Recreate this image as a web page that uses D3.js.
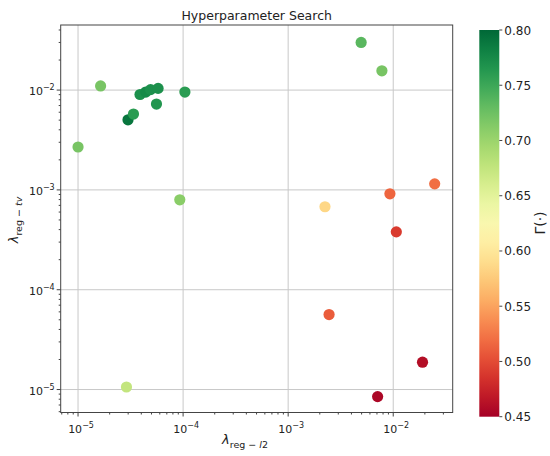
<!DOCTYPE html>
<html>
<head>
<meta charset="utf-8">
<script src="https://cdn.jsdelivr.net/npm/d3@7"></script>
<style>
  body { margin: 0; background: #fff; }
  text { font-family: "DejaVu Sans", sans-serif; fill: #222; }
</style>
</head>
<body>
<div id="chart"></div>
<script>
// valores
const lambdaL2 = [1.0e-5, 1.64e-5, 2.99e-5, 3.37e-5, 3.89e-5, 4.41e-5, 4.9e-5, 5.78e-5, 5.58e-5, 1.04e-4,
                  9.3e-5, 2.89e-5, 4.95e-3, 7.8e-3, 2.24e-3, 9.3e-3, 2.48e-2, 1.07e-2, 2.45e-3, 1.9e-2, 7.1e-3];
const lambdaTV = [2.69e-3, 1.10e-2, 5.04e-3, 5.75e-3, 9.03e-3, 9.55e-3, 1.01e-2, 1.04e-2, 7.24e-3, 9.55e-3,
                  7.96e-4, 1.06e-5, 3.0e-2, 1.56e-2, 6.78e-4, 9.14e-4, 1.15e-3, 3.8e-4, 5.64e-5, 1.88e-5, 8.5e-6];
const gammaVals = [0.72, 0.72, 0.79, 0.76, 0.77, 0.775, 0.77, 0.77, 0.765, 0.76,
                   0.71, 0.675, 0.735, 0.72, 0.585, 0.515, 0.52, 0.49, 0.51, 0.46, 0.455];
const xTicks = [1e-5, 1e-4, 1e-3, 1e-2];
const yTicks = [1e-5, 1e-4, 1e-3, 1e-2];
const cbTicks = [0.45, 0.50, 0.55, 0.60, 0.65, 0.70, 0.75, 0.80];

const width = 550, height = 456;
const plot = { left: 60.7, right: 452.7, top: 25, bottom: 412.5 };

const svg = d3.select('#chart').append('svg')
    .attr('width', width)
    .attr('height', height);

// Escalas (dominio con margenes como matplotlib)
const xScale = d3.scaleLog()
    .domain([Math.pow(10, -5.165), Math.pow(10, -1.434)])
    .range([plot.left, plot.right]);
const yScale = d3.scaleLog()
    .domain([Math.pow(10, -5.23), Math.pow(10, -1.348)])
    .range([plot.bottom, plot.top]);
const color = d3.scaleSequential(d3.interpolateRdYlGn).domain([0.45, 0.80]);

function sup(sel, d) {
    const e = Math.round(Math.log10(d));
    sel.text('10');
    sel.append('tspan').attr('dy', -5).attr('font-size', '8px').text('\u2212' + Math.abs(e));
}

function minors(scale) {
    const [a, b] = scale.domain();
    const out = [];
    for (let k = Math.floor(Math.log10(a)); k <= Math.ceil(Math.log10(b)); k++) {
        for (let m = 2; m <= 9; m++) {
            const v = m * Math.pow(10, k);
            if (v >= a && v <= b) out.push(v);
        }
    }
    return out;
}

// Rejilla
svg.append('g').selectAll('line').data(xTicks).enter().append('line')
    .attr('x1', d => xScale(d)).attr('x2', d => xScale(d))
    .attr('y1', plot.top).attr('y2', plot.bottom)
    .attr('stroke', '#c8c8c8').attr('stroke-width', 1);
svg.append('g').selectAll('line').data(yTicks).enter().append('line')
    .attr('y1', d => yScale(d)).attr('y2', d => yScale(d))
    .attr('x1', plot.left).attr('x2', plot.right)
    .attr('stroke', '#c8c8c8').attr('stroke-width', 1);

// Puntos
const points = lambdaL2.map((x, i) => ({ x: x, y: lambdaTV[i], g: gammaVals[i] }));
svg.append('g').selectAll('circle').data(points).enter().append('circle')
    .attr('cx', d => xScale(d.x))
    .attr('cy', d => yScale(d.y))
    .attr('r', 5.6)
    .attr('fill', d => color(d.g));

// Marco
svg.append('rect')
    .attr('x', plot.left).attr('y', plot.top)
    .attr('width', plot.right - plot.left).attr('height', plot.bottom - plot.top)
    .attr('fill', 'none').attr('stroke', '#444').attr('stroke-width', 1);

// Ejes
const xAxis = svg.append('g').attr('transform', `translate(0,${plot.bottom})`);
xAxis.selectAll('.minor').data(minors(xScale)).enter().append('line')
    .attr('x1', d => xScale(d)).attr('x2', d => xScale(d))
    .attr('y1', 0).attr('y2', 2).attr('stroke', '#444');
xAxis.selectAll('.major').data(xTicks).enter().append('line')
    .attr('x1', d => xScale(d)).attr('x2', d => xScale(d))
    .attr('y1', 0).attr('y2', 4).attr('stroke', '#444');
xAxis.selectAll('text').data(xTicks).enter().append('text')
    .attr('x', d => xScale(d) + 3)
    .attr('y', 20)
    .attr('text-anchor', 'middle')
    .attr('font-size', '11px')
    .each(function(d) { sup(d3.select(this), d); });

const yAxis = svg.append('g').attr('transform', `translate(${plot.left},0)`);
yAxis.selectAll('.minor').data(minors(yScale)).enter().append('line')
    .attr('y1', d => yScale(d)).attr('y2', d => yScale(d))
    .attr('x1', 0).attr('x2', -2).attr('stroke', '#444');
yAxis.selectAll('.major').data(yTicks).enter().append('line')
    .attr('y1', d => yScale(d)).attr('y2', d => yScale(d))
    .attr('x1', 0).attr('x2', -4).attr('stroke', '#444');
yAxis.selectAll('text').data(yTicks).enter().append('text')
    .attr('x', -6)
    .attr('y', d => yScale(d) + 5)
    .attr('text-anchor', 'end')
    .attr('font-size', '11px')
    .each(function(d) { sup(d3.select(this), d); });

// Titulo y nombres de ejes
svg.append('text')
    .attr('x', (plot.left + plot.right) / 2)
    .attr('y', 20)
    .attr('text-anchor', 'middle')
    .attr('font-size', '12.5px')
    .text('Hyperparameter Search');

const xl = svg.append('text')
    .attr('x', 245).attr('y', 444)
    .attr('text-anchor', 'middle')
    .attr('font-size', '13px');
xl.append('tspan').attr('font-style', 'italic').text('\u03bb');
xl.append('tspan').attr('dy', 4).attr('font-size', '9.5px').text('reg \u2212 ');
xl.append('tspan').attr('font-size', '9.5px').attr('font-style', 'italic').text('l');
xl.append('tspan').attr('font-size', '9.5px').text('2');

const yl = svg.append('text')
    .attr('transform', 'translate(18,220) rotate(-90)')
    .attr('text-anchor', 'middle')
    .attr('font-size', '13px');
yl.append('tspan').attr('font-style', 'italic').text('\u03bb');
yl.append('tspan').attr('dy', 4).attr('font-size', '9.5px').text('reg \u2212 ');
yl.append('tspan').attr('font-size', '9.5px').attr('font-style', 'italic').text('tv');

// Barra de color
const cb = { x: 479.3, w: 20, top: 30, bottom: 416.7 };
const cbScale = d3.scaleLinear().domain([0.45, 0.80]).range([cb.bottom, cb.top]);
const grad = svg.append('defs').append('linearGradient')
    .attr('id', 'cbgrad').attr('x1', 0).attr('y1', 1).attr('x2', 0).attr('y2', 0);
d3.range(0, 1.0001, 0.05).forEach(t => {
    grad.append('stop').attr('offset', t).attr('stop-color', d3.interpolateRdYlGn(t));
});
svg.append('rect')
    .attr('x', cb.x).attr('y', cb.top)
    .attr('width', cb.w).attr('height', cb.bottom - cb.top)
    .attr('fill', 'url(#cbgrad)');

const cbAxis = svg.append('g').attr('transform', `translate(${cb.x + cb.w},0)`);
cbAxis.selectAll('line').data(cbTicks).enter().append('line')
    .attr('y1', d => cbScale(d)).attr('y2', d => cbScale(d))
    .attr('x1', 0).attr('x2', 3).attr('stroke', '#444');
cbAxis.selectAll('text').data(cbTicks).enter().append('text')
    .attr('x', 5)
    .attr('y', d => cbScale(d) + 4.5)
    .attr('font-size', '12px')
    .text(d => d.toFixed(2));

svg.append('text')
    .attr('transform', 'translate(545,223) rotate(-90)')
    .attr('text-anchor', 'middle')
    .attr('font-size', '14px')
    .text('\u0393(\u00b7)');
</script>
</body>
</html>
